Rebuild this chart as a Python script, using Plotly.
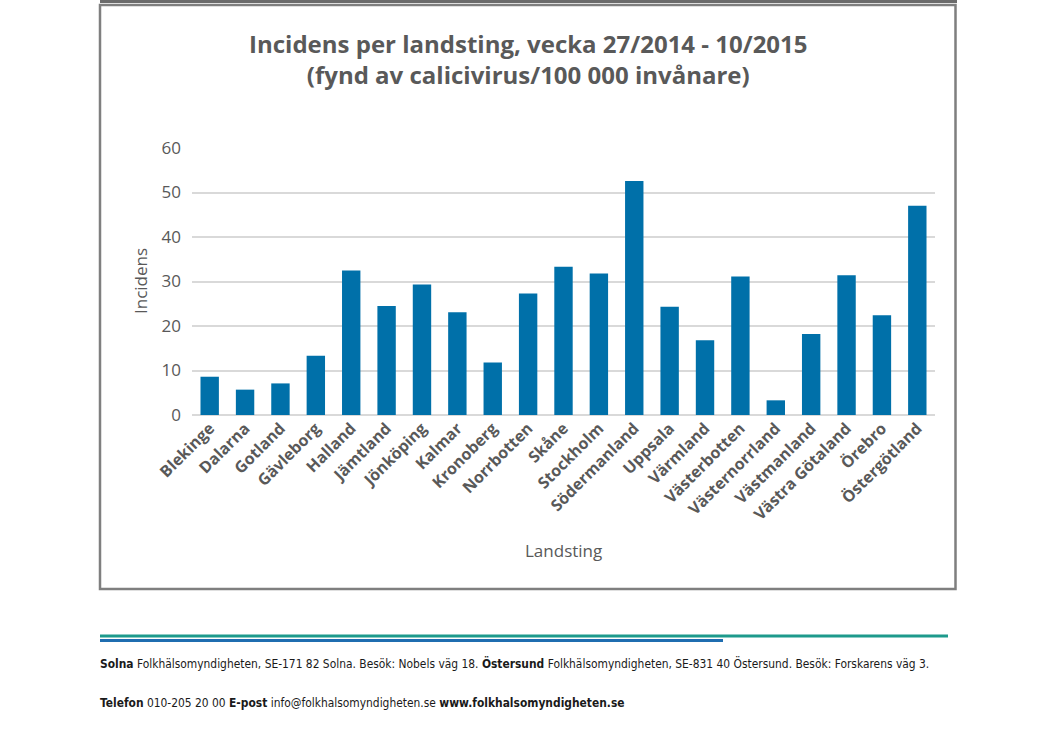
import plotly.graph_objects as go

categories = ["Blekinge", "Dalarna", "Gotland", "Gävleborg", "Halland", "Jämtland",
              "Jönköping", "Kalmar", "Kronoberg", "Norrbotten", "Skåne", "Stockholm",
              "Södermanland", "Uppsala", "Värmland", "Västerbotten", "Västernorrland",
              "Västmanland", "Västra Götaland", "Örebro", "Östergötland"]
values = [8.6, 5.7, 7.1, 13.3, 32.5, 24.5, 29.3, 23.1, 11.8, 27.3, 33.3, 31.8,
          52.6, 24.3, 16.8, 31.1, 3.3, 18.2, 31.4, 22.4, 47.0]
y_ticks = [0, 10, 20, 30, 40, 50, 60]

W, H = 1040, 742
L, R, T, B = 192, 935, 148, 415


def px(x):
    return (x - L) / (R - L)


def py(y):
    return (B - y) / (B - T)


GRAY = "#595959"
fig = go.Figure(go.Bar(x=categories, y=values, marker_color="#0070A9",
                       marker_line_width=0))

fig.update_layout(
    width=W, height=H,
    margin=dict(l=L, r=W - R, t=T, b=H - B, pad=0),
    paper_bgcolor="white", plot_bgcolor="white",
    bargap=0.48,
    showlegend=False,
    font=dict(family="Open Sans", color=GRAY),
)
fig.update_xaxes(
    tickangle=-45, tickfont=dict(family="Open Sans", size=16, color=GRAY, weight="bold"),
    showgrid=False, showline=False, zeroline=False, ticks="",
)
fig.update_yaxes(
    range=[0, 60], tickvals=y_ticks, tickfont=dict(family="Open Sans", size=17, color=GRAY),
    showgrid=True, gridcolor="#d9d9d9", gridwidth=1.5, zeroline=True,
    zerolinecolor="#d9d9d9", zerolinewidth=1.5, showline=False, ticks="",
    ticklabelstandoff=10,
)

ann = []
ann.append(dict(text="Incidens per landsting, vecka 27/2014 - 10/2015<br>(fynd av calicivirus/100 000 invånare)",
                x=px(528), y=py(59), xref="paper", yref="paper", xanchor="center", yanchor="middle",
                showarrow=False, font=dict(family="Open Sans", size=24, color=GRAY, weight="bold")))
ann.append(dict(text="Incidens", x=px(140), y=py(281), xref="paper", yref="paper",
                textangle=-90, showarrow=False, xanchor="center", yanchor="middle",
                font=dict(family="Open Sans", size=17, color=GRAY)))
ann.append(dict(text="Landsting", x=px(563), y=py(550), xref="paper", yref="paper",
                showarrow=False, xanchor="center", yanchor="middle",
                font=dict(family="Open Sans", size=17, color=GRAY)))
ann.append(dict(text="<b>Solna</b> Folkhälsomyndigheten, SE-171 82 Solna. Besök: Nobels väg 18. "
                     "<b>Östersund</b> Folkhälsomyndigheten, SE-831 40 Östersund. Besök: Forskarens väg 3.",
                x=px(98), y=py(663), xref="paper", yref="paper", xanchor="left", yanchor="middle",
                showarrow=False, font=dict(family="DejaVu Sans Condensed", size=11.9, color="#1a1a1a")))
ann.append(dict(text="<b>Telefon</b> 010-205 20 00 <b>E-post</b> info@folkhalsomyndigheten.se "
                     "<b>www.folkhalsomyndigheten.se</b>",
                x=px(98), y=py(703), xref="paper", yref="paper", xanchor="left", yanchor="middle",
                showarrow=False, font=dict(family="DejaVu Sans Condensed", size=11.9, color="#1a1a1a")))
fig.update_layout(annotations=ann)

shapes = [
    dict(type="rect", xref="paper", yref="paper", x0=px(100), x1=px(955.5), y0=py(5), y1=py(589),
         line=dict(color="#7f7f7f", width=2.5), fillcolor="rgba(0,0,0,0)", layer="below"),
    dict(type="line", xref="paper", yref="paper", x0=px(100), x1=px(957), y0=py(1.5), y1=py(1.5),
         line=dict(color="#6b6b6b", width=3)),
    dict(type="line", xref="paper", yref="paper", x0=px(100), x1=px(948), y0=py(636), y1=py(636),
         line=dict(color="#1d9a8c", width=3)),
    dict(type="line", xref="paper", yref="paper", x0=px(100), x1=px(723), y0=py(640.5), y1=py(640.5),
         line=dict(color="#1f6db0", width=3)),
]
fig.update_layout(shapes=shapes)

fig.write_html("out.html")
